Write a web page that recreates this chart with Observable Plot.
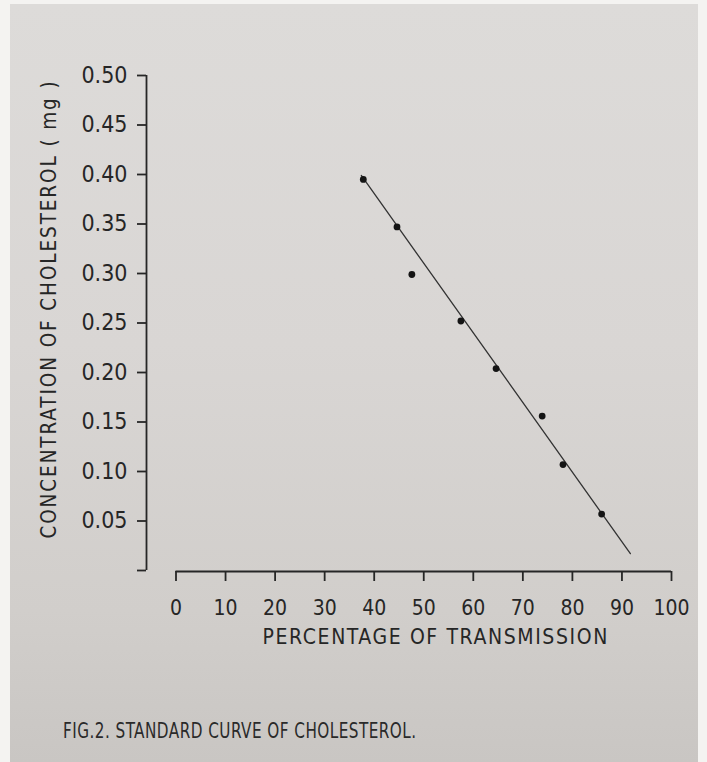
<!DOCTYPE html>
<html>
<head>
<meta charset="utf-8">
<script src="https://cdn.jsdelivr.net/npm/d3@7"></script>
<script src="https://cdn.jsdelivr.net/npm/@observablehq/plot@0.6"></script>
<style>
  html, body { margin: 0; padding: 0; background: #f4f3f1; }
  body { position: relative; width: 707px; height: 762px; overflow: hidden; }
  #paper {
    position: absolute; left: 10px; top: 4px; width: 688px; height: 758px;
    background: linear-gradient(180deg, #dddbd9 0%, #d9d6d4 45%, #d1cecb 80%, #c9c6c3 100%);
  }
  #chart { position: absolute; left: 0; top: 0; width: 707px; }
  #chart svg { max-width: none !important; }
  #caption {
    position: absolute; left: 63px; top: 718px;
    font-family: "Liberation Sans Narrow", "DejaVu Sans Condensed", "DejaVu Sans", sans-serif;
    font-size: 22px; letter-spacing: 0.6px; color: #2a2a2a; white-space: nowrap;
    transform: scaleX(0.77); transform-origin: left center;
  }
</style>
</head>
<body>
<div id="paper"></div>
<div id="chart"></div>
<div id="caption"></div>
<script>
// ---- data ----
const transmission = [37.8, 44.6, 47.6, 57.5, 64.6, 73.9, 78.1, 85.9];          // % transmission
const concentration = [0.395, 0.347, 0.299, 0.252, 0.204, 0.156, 0.107, 0.057]; // mg
const fitTransmission = [37.4, 91.7];
const fitConcentration = [0.399, 0.017];
const xTicks = [0, 10, 20, 30, 40, 50, 60, 70, 80, 90, 100];
const yTicks = [0, 0.05, 0.10, 0.15, 0.20, 0.25, 0.30, 0.35, 0.40, 0.45, 0.50];
const xLabel = "PERCENTAGE OF TRANSMISSION";
const yLabel = "CONCENTRATION OF CHOLESTEROL ( mg )";
const captionText = "FIG.2. STANDARD CURVE OF CHOLESTEROL.";

const points = transmission.map((t, i) => ({t, c: concentration[i]}));
const fit = fitTransmission.map((t, i) => ({t, c: fitConcentration[i]}));

const ink = "#262626";
const font = "\"Liberation Sans Narrow\", \"DejaVu Sans Condensed\", \"DejaVu Sans\", sans-serif";

const chart = Plot.plot({
  width: 707,
  height: 700,
  marginLeft: 175.5,
  marginRight: 36,
  marginTop: 75,
  marginBottom: 130,
  style: {background: "transparent", fontFamily: font, color: ink, maxWidth: "none"},
  x: {domain: [0, 100]},
  y: {domain: [0, 0.5]},
  marks: [
    // y axis (offset to the left of the x origin)
    Plot.ruleX([0], {y1: 0, y2: 0.5, dx: -29.5, stroke: ink, strokeWidth: 1.8}),
    Plot.axisY(yTicks, {anchor: "left", dx: -29.5, tickSize: 9, tickPadding: 10,
      strokeWidth: 1.8, fontSize: 23, label: null,
      tickFormat: d => d === 0 ? "" : d.toFixed(2)}),
    // x axis
    Plot.ruleY([0], {x1: 0, x2: 100, dy: 1, stroke: ink, strokeWidth: 1.8}),
    Plot.axisX(xTicks, {anchor: "bottom", dy: 1, tickSize: 10, tickPadding: 19,
      strokeWidth: 1.8, fontSize: 21, label: null, tickFormat: d => String(d)}),
    // axis titles
    Plot.text([xLabel], {frameAnchor: "bottom", dx: 12, dy: 67, text: d => d,
      fontSize: 21, fill: ink, lineAnchor: "middle", textAnchor: "middle"}),
    Plot.text([yLabel], {frameAnchor: "left", dx: -126.5, dy: -14, rotate: -90, text: d => d,
      fontSize: 20.5, fill: ink, lineAnchor: "middle", textAnchor: "middle"}),
    // standard curve
    Plot.line(fit, {x: "t", y: "c", stroke: "#333", strokeWidth: 1.3}),
    Plot.dot(points, {x: "t", y: "c", r: 3.4, fill: "#141414", stroke: "none"})
  ]
});

d3.select(chart).selectAll("text")
  .filter(function() { return this.textContent === xLabel; })
  .attr("letter-spacing", "1.6px");
d3.select(chart).selectAll("text")
  .filter(function() { return this.textContent === yLabel; })
  .attr("letter-spacing", "1.9px");

document.getElementById("chart").appendChild(chart);
document.getElementById("caption").textContent = captionText;
</script>
</body>
</html>
